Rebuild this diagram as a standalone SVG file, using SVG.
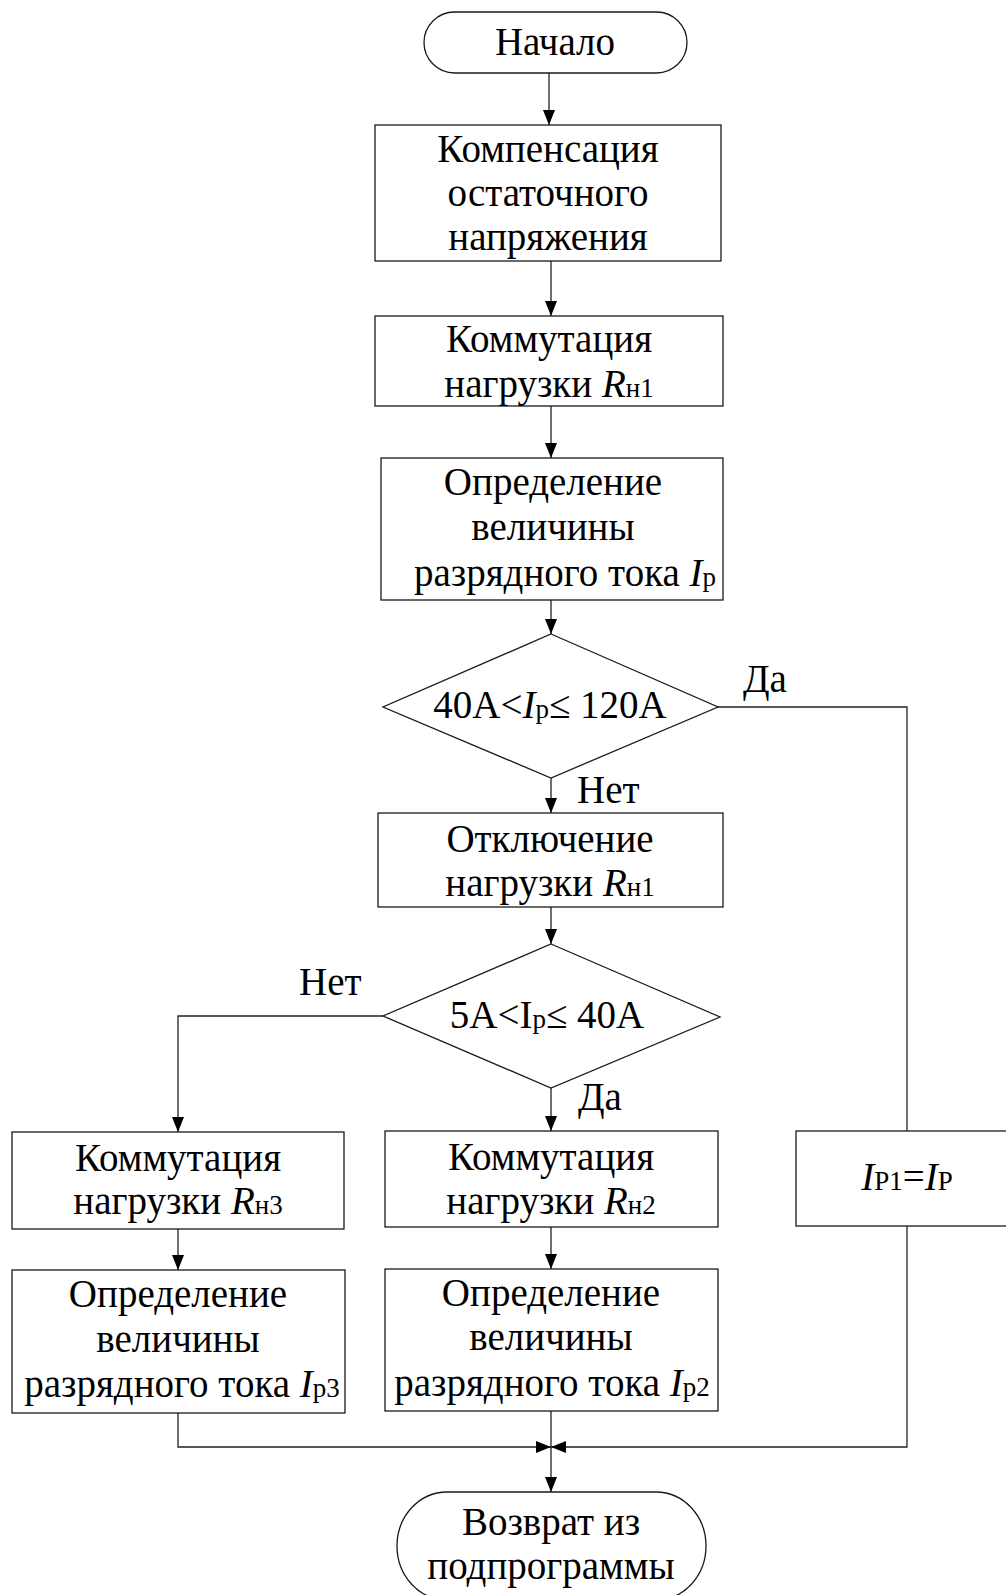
<svg xmlns="http://www.w3.org/2000/svg" width="1006" height="1595" viewBox="0 0 1006 1595">
<style>
.t{font-family:"Liberation Serif","Times New Roman",serif;font-size:39px;fill:#000;text-anchor:middle}
.l{font-family:"Liberation Serif","Times New Roman",serif;font-size:39px;fill:#000}
.s{font-size:27px}
.i{font-style:italic}
.b{fill:#fff;stroke:#1a1a1a;stroke-width:1.3}
.c{fill:none;stroke:#222;stroke-width:1.3}
</style>
<defs>
<marker id="ah" markerUnits="userSpaceOnUse" markerWidth="15" markerHeight="12" refX="15" refY="6" orient="auto">
<path d="M0,0 L15,6 L0,12 z" fill="#000"/>
</marker>
</defs>
<rect width="1006" height="1595" fill="#fff"/>

<g id="connectors">
<path class="c" d="M549,73 V125" marker-end="url(#ah)"/>
<path class="c" d="M551,261 V316" marker-end="url(#ah)"/>
<path class="c" d="M551,406 V458" marker-end="url(#ah)"/>
<path class="c" d="M551,600 V634" marker-end="url(#ah)"/>
<path class="c" d="M551,778 V813" marker-end="url(#ah)"/>
<path class="c" d="M718,707 H907 V1131"/>
<path class="c" d="M551,907 V944" marker-end="url(#ah)"/>
<path class="c" d="M383,1016 H178 V1132" marker-end="url(#ah)"/>
<path class="c" d="M551,1088 V1131" marker-end="url(#ah)"/>
<path class="c" d="M178,1229 V1270" marker-end="url(#ah)"/>
<path class="c" d="M551,1227 V1269" marker-end="url(#ah)"/>
<path class="c" d="M178,1413 V1447 H551" marker-end="url(#ah)"/>
<path class="c" d="M907,1226 V1447 H551" marker-end="url(#ah)"/>
<path class="c" d="M551,1411 V1492" marker-end="url(#ah)"/>
<text class="l" x="577" y="803">Нет</text>
<text class="l" x="743" y="692">Да</text>
<text class="l" x="299" y="995">Нет</text>
<text class="l" x="578" y="1110">Да</text>
</g>

<g id="start">
<rect class="b" x="424" y="12" width="263" height="61" rx="30.5" ry="30.5"/>
<text class="t" x="555" y="55">Начало</text>
</g>

<g id="compensation">
<rect class="b" x="375" y="125" width="346" height="136"/>
<text class="t" x="548" y="162">Компенсация</text>
<text class="t" x="548" y="206">остаточного</text>
<text class="t" x="548" y="250">напряжения</text>
</g>

<g id="switch1">
<rect class="b" x="375" y="316" width="348" height="90"/>
<text class="t" x="549" y="352">Коммутация</text>
<text class="t" x="549" y="397">нагрузки <tspan class="i">R</tspan><tspan class="s">н1</tspan></text>
</g>

<g id="measure1">
<rect class="b" x="381" y="458" width="342" height="142"/>
<text class="t" x="553" y="495">Определение</text>
<text class="t" x="553" y="540">величины</text>
<text class="t" x="565" y="586">разрядного тока <tspan class="i">I</tspan><tspan class="s">р</tspan></text>
</g>

<g id="decision1">
<polygon class="b" points="551,634 718,707 551,778 383,707"/>
<text class="t" x="550" y="718">40A&lt;<tspan class="i">I</tspan><tspan class="s">р</tspan>≤ 120A</text>
</g>

<g id="disconnect1">
<rect class="b" x="378" y="813" width="345" height="94"/>
<text class="t" x="550" y="852">Отключение</text>
<text class="t" x="550" y="896">нагрузки <tspan class="i">R</tspan><tspan class="s">н1</tspan></text>
</g>

<g id="decision2">
<polygon class="b" points="551,944 720,1017 551,1088 383,1016"/>
<text class="t" x="547" y="1028">5A&lt;I<tspan class="s">р</tspan>≤ 40A</text>
</g>

<g id="switch3">
<rect class="b" x="12" y="1132" width="332" height="97"/>
<text class="t" x="178" y="1171">Коммутация</text>
<text class="t" x="178" y="1214">нагрузки <tspan class="i">R</tspan><tspan class="s">н3</tspan></text>
</g>

<g id="switch2">
<rect class="b" x="385" y="1131" width="333" height="96"/>
<text class="t" x="551" y="1170">Коммутация</text>
<text class="t" x="551" y="1214">нагрузки <tspan class="i">R</tspan><tspan class="s">н2</tspan></text>
</g>

<g id="assign">
<rect class="b" x="796" y="1131" width="240" height="95"/>
<text class="t" x="907" y="1190"><tspan class="i">I</tspan><tspan class="s">P1</tspan>=<tspan class="i">I</tspan><tspan class="s">P</tspan></text>
</g>

<g id="measure3">
<rect class="b" x="12" y="1270" width="333" height="143"/>
<text class="t" x="178" y="1307">Определение</text>
<text class="t" x="178" y="1352">величины</text>
<text class="t" x="182" y="1397">разрядного тока <tspan class="i">I</tspan><tspan class="s">р3</tspan></text>
</g>

<g id="measure2">
<rect class="b" x="385" y="1269" width="333" height="142"/>
<text class="t" x="551" y="1306">Определение</text>
<text class="t" x="551" y="1350">величины</text>
<text class="t" x="552" y="1396">разрядного тока <tspan class="i">I</tspan><tspan class="s">р2</tspan></text>
</g>

<g id="end">
<rect class="b" x="397" y="1492" width="309" height="108" rx="50" ry="54"/>
<text class="t" x="551" y="1535">Возврат из</text>
<text class="t" x="551" y="1579">подпрограммы</text>
</g>
</svg>
